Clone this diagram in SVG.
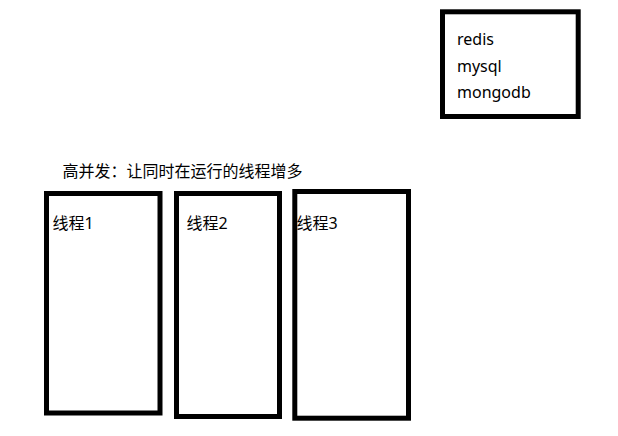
<svg xmlns="http://www.w3.org/2000/svg" width="618" height="436" viewBox="0 0 618 436">
<style>
.box{fill:#fff;stroke:#000;stroke-width:5}
text{font-family:"Noto Sans","Noto Sans CJK SC",sans-serif;font-size:16px;fill:#000}
</style>
<rect width="618" height="436" fill="#fff"/>
<g id="db">
<rect class="box" x="442.5" y="11.8" width="135.7" height="104.7"/>
<text x="457" y="45">redis</text>
<text x="457" y="71.5">mysql</text>
<text x="457" y="98">mongodb</text>
</g>
<g id="title">
<text x="62.5" y="177">高并发：让同时在运行的线程增多</text>
</g>
<g id="thread1">
<rect class="box" x="46.5" y="193.5" width="113.5" height="219.5"/>
<text x="52.5" y="229">线程1</text>
</g>
<g id="thread2">
<rect class="box" x="176.5" y="193.5" width="103" height="223"/>
<text x="186.5" y="229">线程2</text>
</g>
<g id="thread3">
<rect class="box" x="294.8" y="191.5" width="113.7" height="226.7"/>
<text x="296.5" y="229">线程3</text>
</g>
<g id="connectors"></g>
</svg>
